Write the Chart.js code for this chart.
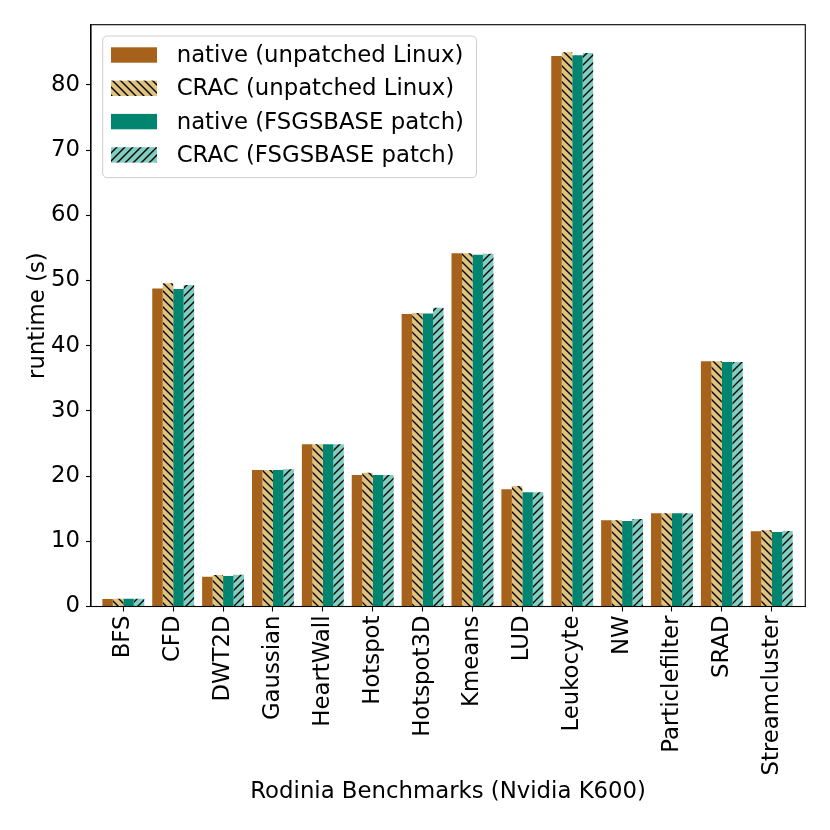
<!DOCTYPE html>
<html>
<head>
<meta charset="utf-8">
<script src="https://cdn.jsdelivr.net/npm/chart.js@4/dist/chart.umd.min.js"></script>
<style>
  body { margin: 0; background: #fff; }
</style>
</head>
<body>
<canvas id="chart" width="830" height="830"></canvas>
<script>
// benchmark names and runtimes (s)
var benchmarks = ['BFS', 'CFD', 'DWT2D', 'Gaussian', 'HeartWall', 'Hotspot', 'Hotspot3D',
                  'Kmeans', 'LUD', 'Leukocyte', 'NW', 'Particlefilter', 'SRAD', 'Streamcluster'];
var seriesNames = ['native (unpatched Linux)', 'CRAC (unpatched Linux)',
                   'native (FSGSBASE patch)', 'CRAC (FSGSBASE patch)'];
var nativeUnpatched = [1.15, 48.8, 4.57, 20.94, 24.88, 20.17, 44.87, 54.18, 17.98, 84.45, 13.22, 14.3, 37.61, 11.54];
var cracUnpatched   = [1.2, 49.58, 4.83, 20.94, 24.88, 20.52, 45.02, 54.18, 18.48, 85.01, 13.22, 14.3, 37.61, 11.69];
var nativeFsgs      = [1.2, 48.7, 4.68, 20.94, 24.88, 20.17, 44.95, 53.97, 17.52, 84.55, 13.12, 14.3, 37.5, 11.43];
var cracFsgs        = [1.2, 49.32, 4.88, 21.05, 24.9, 20.17, 45.84, 54.12, 17.52, 84.9, 13.42, 14.3, 37.5, 11.58];
var yTicks = [0, 10, 20, 30, 40, 50, 60, 70, 80];

var FONT = 'DejaVu Sans';
var FS = 22.8;
Chart.defaults.font.family = FONT;
Chart.defaults.font.size = FS;
Chart.defaults.color = '#000';

// hatch patterns like matplotlib '\\' and '//'
function hatch(bg, dir) {
    var t = 24, c = document.createElement('canvas');
    c.width = t; c.height = t;
    var g = c.getContext('2d');
    g.fillStyle = bg;
    g.fillRect(0, 0, t, t);
    g.strokeStyle = '#000';
    g.lineWidth = 1.35;
    var s = t / 3;
    for (var k = -4; k <= 4; k++) {
        g.beginPath();
        if (dir == 'back') {
            g.moveTo(k * s - 2, -2);
            g.lineTo(k * s + t + 2, t + 2);
        } else {
            g.moveTo(k * s - 2, t + 2);
            g.lineTo(k * s + t + 2, -2);
        }
        g.stroke();
    }
    return g.createPattern(c, 'repeat');
}

var fills = ['#a6611a', hatch('#dfc27d', 'back'), '#018571', hatch('#80cdc1', 'fwd')];
var values = [nativeUnpatched, cracUnpatched, nativeFsgs, cracFsgs];

var datasets = [];
for (var d = 0; d < 4; d++) {
    datasets.push({
        label: seriesNames[d],
        data: values[d].map(function (v, i) { return {x: i, y: v}; }),
        backgroundColor: fills[d],
        borderWidth: 0,
        categoryPercentage: 0.84,
        barPercentage: 1.0
    });
}

// top/right spines
var framePlugin = {
    id: 'frame',
    afterDraw: function (chart) {
        var a = chart.chartArea, ctx = chart.ctx;
        ctx.save();
        ctx.strokeStyle = '#000';
        ctx.lineWidth = 1.1;
        ctx.strokeRect(a.left, a.top, a.right - a.left, a.bottom - a.top);
        ctx.restore();
    }
};

// matplotlib-style legend box in the upper left
var legendPlugin = {
    id: 'mplLegend',
    afterDraw: function (chart) {
        var a = chart.chartArea, ctx = chart.ctx;
        ctx.save();
        ctx.font = FS + 'px ' + FONT;
        var maxW = 0;
        chart.data.datasets.forEach(function (ds) {
            maxW = Math.max(maxW, ctx.measureText(ds.label).width);
        });
        var x0 = a.left + 11.7, y0 = a.top + 11.3;
        var w = 74 + maxW + 12.5, h = 141.7, r = 4.5;
        ctx.beginPath();
        ctx.moveTo(x0 + r, y0);
        ctx.arcTo(x0 + w, y0, x0 + w, y0 + h, r);
        ctx.arcTo(x0 + w, y0 + h, x0, y0 + h, r);
        ctx.arcTo(x0, y0 + h, x0, y0, r);
        ctx.arcTo(x0, y0, x0 + w, y0, r);
        ctx.closePath();
        ctx.fillStyle = 'rgba(255,255,255,0.8)';
        ctx.fill();
        ctx.strokeStyle = '#cccccc';
        ctx.lineWidth = 1;
        ctx.stroke();
        chart.data.datasets.forEach(function (ds, i) {
            var cy = y0 + 19 + i * 33.3;
            ctx.fillStyle = ds.backgroundColor;
            ctx.fillRect(x0 + 8.3, cy - 7.7, 46, 15.4);
            ctx.fillStyle = '#000';
            ctx.textBaseline = 'middle';
            ctx.textAlign = 'left';
            ctx.fillText(ds.label, x0 + 74, cy + 1);
        });
        ctx.restore();
    }
};

new Chart(document.getElementById('chart'), {
    type: 'bar',
    data: { datasets: datasets },
    options: {
        responsive: false,
        animation: false,
        devicePixelRatio: 1,
        layout: { padding: { left: 0, top: 24.7, right: 24.7, bottom: 0 } },
        plugins: { legend: { display: false }, tooltip: { enabled: false } },
        scales: {
            x: {
                type: 'linear',
                offset: false,
                min: -0.648,
                max: 13.673,
                afterBuildTicks: function (s) {
                    s.ticks = benchmarks.map(function (b, i) { return {value: i}; });
                },
                afterFit: function (s) { s.height = 830 - 606.5; },
                ticks: {
                    autoSkip: false,
                    minRotation: 90,
                    maxRotation: 90,
                    padding: 4,
                    callback: function (v) { return benchmarks[v]; }
                },
                grid: { drawOnChartArea: false, offset: false, tickLength: 5, tickColor: '#000', tickWidth: 1.1 },
                border: { color: '#000', width: 1.1 },
                title: { display: true, text: 'Rodinia Benchmarks (Nvidia K600)', padding: { top: 0, bottom: 24.5 } }
            },
            y: {
                min: 0,
                max: 89.25,
                afterBuildTicks: function (s) {
                    s.ticks = yTicks.map(function (v) { return {value: v}; });
                },
                afterFit: function (s) { s.width = 91; },
                ticks: { padding: 6 },
                grid: { drawOnChartArea: false, tickLength: 5, tickColor: '#000', tickWidth: 1.1 },
                border: { color: '#000', width: 1.1 },
                title: { display: true, text: 'runtime (s)', padding: { top: 24.5, bottom: 0 } }
            }
        }
    },
    plugins: [framePlugin, legendPlugin]
});
</script>
</body>
</html>
